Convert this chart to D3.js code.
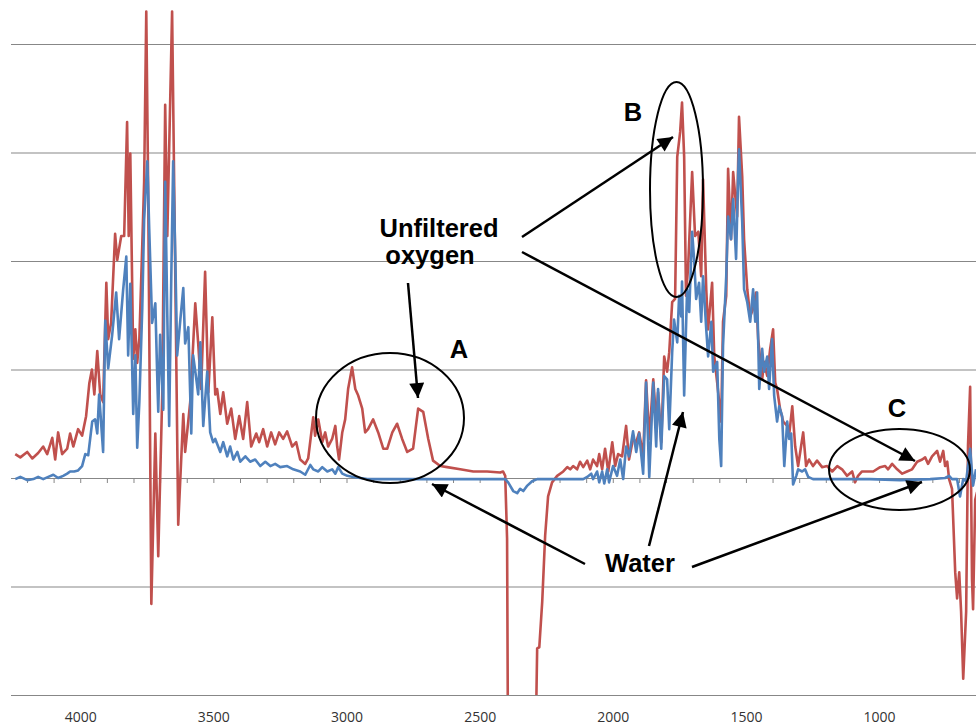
<!DOCTYPE html>
<html lang="en">
	<head>
		<meta charset="utf-8">
		<title>IR spectra: unfiltered oxygen vs water</title>
		<script type="text/javascript" src="https://cdn.jsdelivr.net/npm/d3@7"></script>
		<style type="text/css">
			body {
				margin: 0;
				background: #fff;
			}
			.grid line {
				stroke: #878787;
				stroke-width: 1;
			}
			.xlabels text {
				font-family: "Open Sans", sans-serif;
				font-size: 14px;
				fill: #333;
			}
			.note {
				font-family: "Liberation Sans", Arial, sans-serif;
				font-weight: bold;
				font-size: 25.5px;
				fill: #000;
			}
		</style>
	</head>
	<body>
		<script type="text/javascript">

			//Width and height
			var w = 976;
			var h = 725;

			//Unfiltered oxygen (red) - wavenumber (cm-1) and absorbance
			var oxygenWn = [4244,4225,4199,4180,4158,4139,4124,4105,4094,4083,
				4068,4049,4038,4026,4008,3993,3978,3966,3956,3947,
				3936,3925,3914,3902,3895,3884,3869,3861,3846,3835,
				3824,3818,3812,3801,3793,3786,3778,3767,3760,3752,
				3745,3733,3718,3707,3692,3681,3673,3655,3643,3632,
				3613,3606,3587,3568,3557,3546,3531,3519,3504,3493,
				3486,3474,3463,3448,3433,3418,3403,3388,3373,3358,
				3339,3328,3313,3298,3283,3268,3253,3238,3223,3204,
				3189,3174,3155,3144,3125,3118,3106,3091,3080,3069,
				3054,3042,3035,3028,3016,3005,2994,2979,2967,2956,
				2941,2930,2919,2900,2881,2862,2847,2828,2810,2791,
				2772,2750,2731,2712,2693,2675,2648,2622,2573,2524,
				2472,2423,2412,2404,2397,2393,2292,2284,2276,2265,
				2254,2243,2228,2209,2186,2171,2160,2149,2134,2123,
				2111,2096,2085,2074,2059,2051,2040,2029,2017,2002,
				1991,1980,1965,1950,1939,1924,1912,1901,1886,1875,
				1863,1848,1837,1830,1818,1807,1796,1788,1777,1766,
				1758,1747,1740,1732,1725,1717,1702,1691,1679,1668,
				1661,1649,1642,1627,1619,1608,1593,1586,1574,1567,
				1556,1548,1533,1526,1514,1507,1495,1484,1473,1462,
				1454,1439,1432,1420,1409,1398,1390,1383,1372,1360,
				1345,1338,1326,1315,1304,1293,1285,1274,1263,1248,
				1233,1214,1195,1176,1157,1139,1120,1101,1090,1079,
				1064,1045,1022,996,977,966,951,932,913,895,
				876,857,838,827,816,801,782,771,759,752,
				744,737,726,714,707,699,692,684,673,666,
				658,651,647,639,632];
			var oxygenAbs = [0.22,0.19,0.24,0.18,0.23,0.29,0.22,0.37,0.17,0.42,
				0.22,0.27,0.41,0.29,0.45,0.39,0.57,0.87,1.00,0.77,
				1.17,0.77,0.70,1.80,1.28,1.43,2.25,2.01,2.23,2.23,
				3.28,2.23,2.99,1.10,1.37,1.06,1.28,2.15,2.73,4.30,
				2.70,-1.16,0.41,-0.72,0.77,3.44,2.23,4.30,1.86,-0.43,
				0.59,0.24,0.70,1.61,1.24,0.82,1.90,0.79,1.48,0.77,
				0.82,0.59,0.79,0.50,0.64,0.36,0.57,0.36,0.70,0.29,
				0.41,0.33,0.45,0.29,0.42,0.31,0.42,0.36,0.43,0.29,
				0.33,0.17,0.13,0.18,0.56,0.39,0.54,0.33,0.42,0.29,
				0.36,0.48,0.29,0.17,0.42,0.54,0.82,1.02,0.82,0.76,
				0.64,0.42,0.45,0.54,0.42,0.27,0.27,0.42,0.50,0.36,
				0.24,0.27,0.64,0.61,0.36,0.16,0.11,0.10,0.08,0.06,
				0.06,0.05,0.06,0.02,-0.56,-2.8,-2.8,-1.57,-1.56,-1.14,
				-0.53,-0.17,-0.04,0.02,0.06,0.10,0.08,0.11,0.08,0.15,
				0.10,0.16,0.08,0.17,0.11,0.22,0.08,0.27,0.06,0.33,
				0.11,0.22,0.20,0.48,0.17,0.36,0.33,0.42,0.20,0.90,
				0.36,0.91,0.52,0.79,0.33,1.12,0.98,1.16,1.62,1.65,
				2.96,3.19,3.46,2.96,1.68,1.95,2.82,2.23,2.27,1.86,
				2.75,1.74,1.37,1.80,1.12,0.88,0.52,1.44,1.68,2.85,
				2.20,2.82,2.41,3.33,2.78,2.20,1.74,1.49,1.56,1.71,
				1.28,0.91,1.07,0.94,1.19,1.37,0.88,0.82,0.64,0.52,
				0.48,0.39,0.66,0.29,0.11,0.29,0.42,0.11,0.17,0.11,
				0.16,0.10,0.11,0.06,0.11,0.08,0.02,0.06,-0.04,0.02,
				0.06,0.06,0.06,0.10,0.11,0.08,0.13,0.08,0.04,0.06,
				0.08,0.15,0.17,0.19,0.13,0.20,0.25,0.15,0.25,0.11,
				0.15,-0.01,-0.10,-0.87,-1.11,-0.87,-1.23,-1.85,-1.23,0.30,
				0.84,-0.93,-1.21,-0.20,-0.13];

			//Water (blue)
			var waterWn = [4244,4225,4199,4176,4158,4139,4120,4101,4083,4064,
				4049,4038,4023,4008,3993,3981,3970,3955,3944,3936,
				3929,3914,3906,3895,3880,3865,3854,3839,3827,3820,
				3812,3801,3793,3786,3778,3767,3760,3748,3741,3730,
				3718,3711,3707,3700,3688,3681,3673,3666,3658,3651,
				3643,3636,3624,3613,3606,3594,3583,3576,3564,3557,
				3549,3538,3523,3512,3501,3493,3474,3463,3448,3437,
				3425,3410,3399,3380,3362,3343,3324,3305,3286,3268,
				3249,3223,3200,3174,3155,3136,3125,3106,3091,3072,
				3054,3042,3031,3016,2997,2975,2922,2798,2611,2404,
				2393,2374,2359,2348,2336,2321,2303,2284,2111,2096,
				2081,2074,2059,2051,2040,2032,2021,2014,1999,1984,
				1972,1961,1950,1939,1924,1912,1901,1886,1875,1863,
				1848,1837,1830,1818,1807,1796,1788,1777,1770,1758,
				1751,1743,1740,1732,1721,1713,1702,1694,1687,1676,
				1668,1661,1649,1642,1630,1623,1608,1600,1593,1586,
				1574,1567,1556,1548,1537,1529,1526,1514,1507,1495,
				1484,1473,1465,1458,1450,1439,1432,1420,1413,1402,
				1394,1383,1375,1364,1356,1345,1338,1330,1323,1311,
				1304,1289,1278,1266,1248,1184,1034,921,808,752,
				737,726,707,696,684,673,658,647,636];
			var waterAbs = [-0.01,0.01,-0.02,-0.01,0.01,-0.01,0.01,0.03,0.00,0.02,
				0.04,0.06,0.06,0.07,0.11,0.22,0.21,0.52,0.54,0.41,
				0.77,0.24,1.45,1.01,1.32,1.71,1.28,1.73,2.04,1.13,
				1.79,0.59,1.13,0.28,0.70,1.57,2.38,2.92,2.30,1.43,
				1.61,0.95,0.61,1.32,0.63,2.73,1.50,0.48,1.86,2.92,
				2.04,1.13,1.46,1.75,1.24,1.39,0.41,1.13,0.91,0.77,
				1.25,0.48,0.98,0.42,0.33,0.36,0.24,0.33,0.20,0.29,
				0.17,0.24,0.15,0.20,0.15,0.17,0.11,0.15,0.11,0.13,
				0.10,0.11,0.08,0.06,0.03,0.12,0.08,0.06,0.10,0.06,
				0.08,0.04,0.10,0.04,0.02,0.01,-0.01,-0.01,-0.01,-0.01,
				-0.04,-0.12,-0.14,-0.10,-0.12,-0.07,-0.03,-0.01,-0.01,0.01,
				0.04,-0.01,0.06,-0.04,0.06,-0.05,0.08,-0.04,0.11,0.02,
				0.17,-0.01,0.29,0.20,0.43,0.24,0.41,0.04,0.88,0.01,
				0.88,0.29,0.82,0.27,0.94,0.91,0.45,1.16,1.46,1.25,
				1.68,1.49,1.81,0.76,1.74,1.53,2.27,1.99,1.65,1.80,
				1.44,1.86,1.37,1.12,1.44,0.98,1.07,0.36,0.11,1.22,
				1.86,2.41,2.20,2.57,2.02,2.82,3.03,2.36,1.74,1.62,
				1.44,1.74,1.44,1.71,0.82,1.19,0.98,1.12,0.82,1.28,
				0.76,0.52,0.66,0.57,0.11,0.52,0.36,0.41,-0.06,0.02,
				0.08,0.06,0.08,0.01,-0.01,-0.01,-0.01,-0.02,-0.01,0.00,
				0.02,-0.01,-0.01,-0.17,-0.01,-0.03,0.27,-0.07,0.08];

			//Tick labels along the bottom
			var xLabels = [4000, 3500, 3000, 2500, 2000, 1500, 1000];

			//Plot area
			var plotLeft = 11, plotRight = 976, plotTop = 44, plotBottom = 695;

			var xScale = d3.scaleLinear()
							.domain([4260, 636])
							.range([plotLeft, plotRight]);

			var yScale = d3.scaleLinear()
							.domain([-2, 4])
							.range([plotBottom, plotTop]);

			var svg = d3.select("body")
						.append("svg")
						.attr("width", w)
						.attr("height", h);

			svg.append("rect")
				.attr("width", w)
				.attr("height", h)
				.attr("fill", "#fff");

			svg.append("clipPath")
				.attr("id", "plot")
				.append("rect")
				.attr("x", plotLeft)
				.attr("y", 0)
				.attr("width", plotRight - plotLeft)
				.attr("height", plotBottom);

			//Horizontal gridlines
			svg.append("g")
				.attr("class", "grid")
				.attr("transform", "translate(" + plotLeft + ",0)")
				.call(d3.axisLeft(yScale).ticks(6).tickSize(-(plotRight - plotLeft)).tickFormat(""))
				.call(function(g) { g.select(".domain").remove(); });

			//Zero line with minor ticks every 100 cm-1
			var zeroAxis = svg.append("g")
				.attr("transform", "translate(0," + yScale(0) + ")")
				.call(d3.axisBottom(xScale)
					.tickValues(d3.range(700, 4300, 100))
					.tickSize(5)
					.tickSizeOuter(0)
					.tickFormat(""));
			zeroAxis.selectAll("line").attr("stroke", "#878787");
			zeroAxis.select(".domain").attr("stroke", "#878787");

			//Bottom labels
			svg.append("g")
				.attr("class", "xlabels")
				.attr("transform", "translate(0," + plotBottom + ")")
				.call(d3.axisBottom(xScale)
					.tickValues(xLabels)
					.tickSize(0)
					.tickPadding(17)
					.tickFormat(d3.format("d")))
				.call(function(g) { g.select(".domain").remove(); })
				.selectAll("text")
				.attr("font-family", null)
				.attr("font-size", null);

			var line = d3.line()
				.x(function(d) { return xScale(d[0]); })
				.y(function(d) { return yScale(d[1]); });

			var series = [
				{ name: "Unfiltered oxygen", color: "#C0504D", points: d3.zip(oxygenWn, oxygenAbs) },
				{ name: "Water", color: "#4F81BD", points: d3.zip(waterWn, waterAbs) }
			];

			svg.append("g")
				.attr("clip-path", "url(#plot)")
				.selectAll("path")
				.data(series)
				.enter()
				.append("path")
				.attr("d", function(d) { return line(d.points); })
				.attr("fill", "none")
				.attr("stroke", function(d) { return d.color; })
				.attr("stroke-width", 2.6)
				.attr("stroke-linejoin", "round");

			//Annotations
			svg.append("defs")
				.append("marker")
				.attr("id", "head")
				.attr("viewBox", "0 0 10 10")
				.attr("refX", 10)
				.attr("refY", 5)
				.attr("markerUnits", "userSpaceOnUse")
				.attr("markerWidth", 19)
				.attr("markerHeight", 15)
				.attr("orient", "auto")
				.append("path")
				.attr("d", "M0,0L10,5L0,10Z")
				.attr("fill", "#000");

			var ellipses = [
				{ cx: 390, cy: 418, rx: 74, ry: 65 },
				{ cx: 676.5, cy: 189.5, rx: 26.5, ry: 107.5 },
				{ cx: 899.5, cy: 469.5, rx: 70.5, ry: 40.5 }
			];

			svg.selectAll("ellipse")
				.data(ellipses)
				.enter()
				.append("ellipse")
				.attr("cx", function(d) { return d.cx; })
				.attr("cy", function(d) { return d.cy; })
				.attr("rx", function(d) { return d.rx; })
				.attr("ry", function(d) { return d.ry; })
				.attr("fill", "none")
				.attr("stroke", "#000")
				.attr("stroke-width", 2);

			var arrows = [
				[408, 283, 418, 398],
				[522, 237, 673, 137],
				[522, 252, 915, 461],
				[585, 564, 432, 484],
				[649, 546, 683, 412],
				[692, 567, 922, 482]
			];

			svg.selectAll(".arrow")
				.data(arrows)
				.enter()
				.append("line")
				.attr("class", "arrow")
				.attr("x1", function(d) { return d[0]; })
				.attr("y1", function(d) { return d[1]; })
				.attr("x2", function(d) { return d[2]; })
				.attr("y2", function(d) { return d[3]; })
				.attr("stroke", "#000")
				.attr("stroke-width", 2.5)
				.attr("marker-end", "url(#head)");

			var notes = [
				{ text: "Unfiltered", x: 439, y: 237 },
				{ text: "oxygen", x: 430, y: 264 },
				{ text: "Water", x: 640, y: 572 },
				{ text: "A", x: 459, y: 358 },
				{ text: "B", x: 633, y: 121 },
				{ text: "C", x: 897, y: 417 }
			];

			svg.selectAll(".note")
				.data(notes)
				.enter()
				.append("text")
				.attr("class", "note")
				.attr("x", function(d) { return d.x; })
				.attr("y", function(d) { return d.y; })
				.attr("text-anchor", "middle")
				.text(function(d) { return d.text; });

		</script>
	</body>
</html>
